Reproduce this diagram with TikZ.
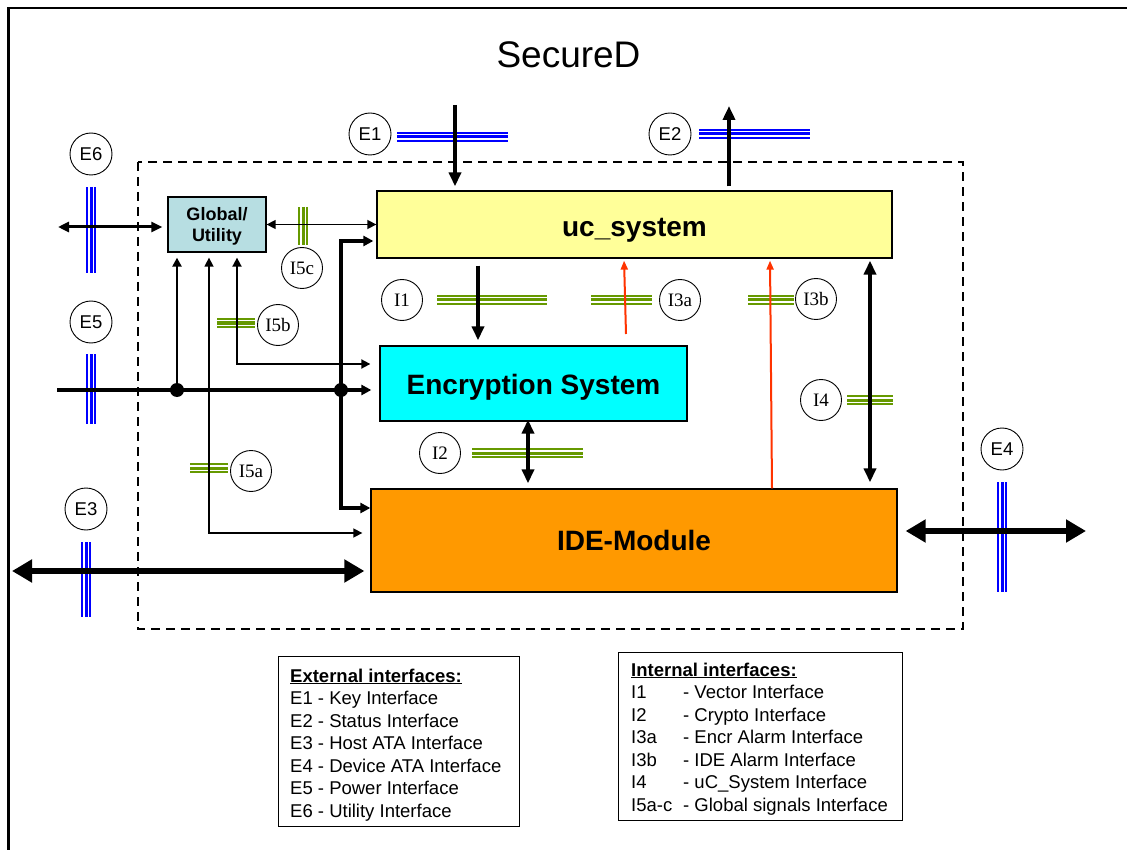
\documentclass[tikz,border=0pt]{standalone}
\usepackage{fontspec}
\setmainfont{Liberation Sans}
\newfontfamily\tmsfont{Liberation Serif}
\usetikzlibrary{arrows.meta}
\definecolor{busblue}{RGB}{0,0,255}
\definecolor{busgreen}{RGB}{102,153,0}
\definecolor{gufill}{RGB}{183,222,226}
\definecolor{ucfill}{RGB}{255,255,153}
\definecolor{encfill}{RGB}{0,255,255}
\definecolor{idefill}{RGB}{255,153,0}
\definecolor{alarmred}{RGB}{255,51,0}
\tikzset{
  tS/.tip={Triangle[length=9pt,width=9pt]},
  tT/.tip={Triangle[length=10pt,width=10pt]},
  tM/.tip={Triangle[length=14pt,width=12pt]},
  tE/.tip={Triangle[length=11pt,width=10pt]},
  tL/.tip={Triangle[length=20pt,width=22pt]},
  tR/.tip={Triangle[length=9pt,width=7pt]},
  blk/.style={draw=black, line width=1.3pt, inner sep=0pt, align=center,
    font=\bfseries\fontsize{28}{30}\selectfont, text depth=0pt},
  tag/.style={circle, draw=black, line width=0.9pt, minimum size=42pt, inner sep=0pt,
    font=\fontsize{18.5}{18.5}\selectfont},
  itag/.style={tag, minimum size=41pt, font=\tmsfont\fontsize{19}{19}\selectfont},
  bus/.style={draw=#1, line width=10.5pt,
    postaction={draw=white, line width=6.5pt},
    postaction={draw=#1, line width=3pt}},
  legbox/.style={draw=black, line width=1.3pt, inner sep=0pt},
  legtext/.style={inner sep=0pt, font=\fontsize{18.5}{22.5}\selectfont},
  medarrow/.style={line width=3.5pt},
  thinarrow/.style={line width=1.5pt},
  bigarrow/.style={line width=5.5pt, tL-tL},
  alarm/.style={draw=alarmred, line width=2pt, -tR, alarmred},
}
\begin{document}
\begin{tikzpicture}[x=1pt,y=-1pt]
\useasboundingbox (0,0) rectangle (1127,850);
\fill[white] (0,0) rectangle (1127,850);
% outer frame
\draw[line width=2.5pt] (8.7,850) -- (8.7,7.8) -- (1127,7.8);
% title
\node[anchor=base, font=\fontsize{37}{40}\selectfont] (title) at (568.5,68) {SecureD};
% system boundary
\draw[line width=2pt, dash pattern=on 9pt off 6pt] (138,162) rectangle (963,629);

% interface bars
\draw[bus=busblue] (397,137) -- (508,137);
\draw[bus=busblue] (699,134) -- (810,134);
\draw[bus=busblue] (91,187) -- (91,273);
\draw[bus=busblue] (91,354) -- (91,424);
\draw[bus=busblue] (86,542) -- (86,617);
\draw[bus=busblue] (1002,482) -- (1002,592);
\draw[bus=busgreen] (437,300) -- (547,300);
\draw[bus=busgreen] (591,300) -- (652,300);
\draw[bus=busgreen] (748,300) -- (794,300);
\draw[bus=busgreen] (847,400) -- (893,400);
\draw[bus=busgreen] (472,453) -- (583,453);
\draw[bus=busgreen] (303,207) -- (303,245);
\draw[bus=busgreen] (217,323) -- (255,323);
\draw[bus=busgreen] (190,468) -- (228,468);

% blocks
\node[blk, fill=gufill, minimum width=98pt, minimum height=55pt,
  font=\bfseries\fontsize{18}{21}\selectfont] (gu) at (217,224.5) {Global/\\Utility};
\node[blk, fill=ucfill, minimum width=515pt, minimum height=67pt, text height=25pt] (uc) at (634.5,224.5) {uc\_system};
\node[blk, fill=encfill, minimum width=307pt, minimum height=75pt, text height=21pt] (enc) at (533.5,383.5) {Encryption System};
\node[blk, fill=idefill, minimum width=526pt, minimum height=103pt, text height=20pt] (ide) at (634,540.5) {IDE-Module};

% interface tags
\node[tag] (E1) at (370,134) {E1};
\node[tag] (E2) at (670,134) {E2};
\node[tag] (E6) at (91,154) {E6};
\node[tag] (E5) at (91,322) {E5};
\node[tag] (E3) at (86,509) {E3};
\node[tag] (E4) at (1002,449) {E4};
\node[itag] (I1) at (402,300) {I1};
\node[itag] (I3a) at (680,300) {I3a};
\node[itag] (I3b) at (816,299) {I3b};
\node[itag] (I4) at (821,400) {I4};
\node[itag] (I2) at (440,453) {I2};
\node[itag] (I5c) at (302,268) {I5c};
\node[itag] (I5b) at (278,325) {I5b};
\node[itag] (I5a) at (251,471) {I5a};

% free ends and corners
\coordinate (e1s) at (455,105);
\coordinate (e2e) at (729,106);
\coordinate (e6s) at (58,227);
\coordinate (e5s) at (57,390);
\coordinate (e3s) at (12,571);
\coordinate (e4e) at (1086,531);
\coordinate (j1) at (177,390);
\coordinate (j2) at (341,390);
\coordinate (tc1) at (341,241);
\coordinate (tc2) at (341,508);
\coordinate (g2) at (209,533);
\coordinate (g3) at (237,364);
\coordinate (i1x) at (478,0);
\coordinate (i2x) at (528,0);
\coordinate (i4x) at (870,0);
\coordinate (i3a0) at (626,334);
\coordinate (i3ax) at (624,0);
\coordinate (i3bb) at (772,0);
\coordinate (i3bx) at (770,0);

% external connectors
\draw[medarrow, -tM, shorten >=4pt] (e1s) -- (e1s |- uc.north);
\draw[medarrow, -tM, shorten <=4pt] (e2e |- uc.north) -- (e2e);
\draw[line width=3pt, tE-tE, shorten >=5pt] (e6s) -- (e6s -| gu.west);
\draw[bigarrow, shorten >=6pt] (e3s) -- (e3s -| ide.west);
\draw[bigarrow, shorten <=8pt] (e4e -| ide.east) -- (e4e);

% power / global signals
\draw[line width=3.3pt, -tT, shorten >=8pt] (e5s) -- (e5s -| enc.west);
\draw[line width=3.5pt, tT-tT, shorten >=3pt] (tc2 -| ide.west) -- (tc2) -- (tc1) -- (tc1 -| uc.west);
\draw[line width=2.5pt, -tS, shorten >=5pt] (j1) -- (j1 |- gu.south);
\draw[thinarrow, tS-tS, shorten <=5pt, shorten >=8pt] (g2 |- gu.south) -- (g2) -- (g2 -| ide.west);
\draw[line width=1.8pt, tS-tS, shorten <=5pt, shorten >=9pt] (g3 |- gu.south) -- (g3) -- (g3 -| enc.west);
\draw[thinarrow, tS-tS] (gu.east) -- (gu.east -| uc.west);
\fill (j1) circle (7pt);
\fill (j2) circle (7pt);

% internal connectors
\draw[medarrow, -tM, shorten <=7pt, shorten >=5pt] (uc.south -| i1x) -- (enc.north -| i1x);
\draw[medarrow, tM-tM, shorten <=-2pt, shorten >=5pt] (enc.south -| i2x) -- (ide.north -| i2x);
\draw[medarrow, tM-tM, shorten <=2pt, shorten >=6pt] (uc.south -| i4x) -- (ide.north -| i4x);
\draw[alarm, shorten >=2pt] (i3a0) -- (uc.south -| i3ax);
\draw[alarm, shorten >=2pt] (ide.north -| i3bb) -- (uc.south -| i3bx);

% legends
\node[legbox, anchor=north west, minimum width=241pt, minimum height=170pt] (extbox) at (278,656) {};
\node[legtext, anchor=base west] (exttxt) at (290,682) {%
\begin{tabular}[t]{@{}l@{}}
\underline{\textbf{External interfaces:}}\\
E1 - Key Interface\\
E2 - Status Interface\\
E3 - Host ATA Interface\\
E4 - Device ATA Interface\\
E5 - Power Interface\\
E6 - Utility Interface
\end{tabular}};
\node[legbox, anchor=north west, minimum width=284pt, minimum height=168pt] (intbox) at (618,652) {};
\node[legtext, anchor=base west] (inttxt) at (631,676) {%
\begin{tabular}[t]{@{}p{52pt}@{}l@{}}
\multicolumn{2}{@{}l@{}}{\underline{\textbf{Internal interfaces:}}}\\
I1 & - Vector Interface\\
I2 & - Crypto Interface\\
I3a & - Encr Alarm Interface\\
I3b & - IDE Alarm Interface\\
I4 & - uC\_System Interface\\
I5a-c & - Global signals Interface
\end{tabular}};
\end{tikzpicture}
\end{document}
